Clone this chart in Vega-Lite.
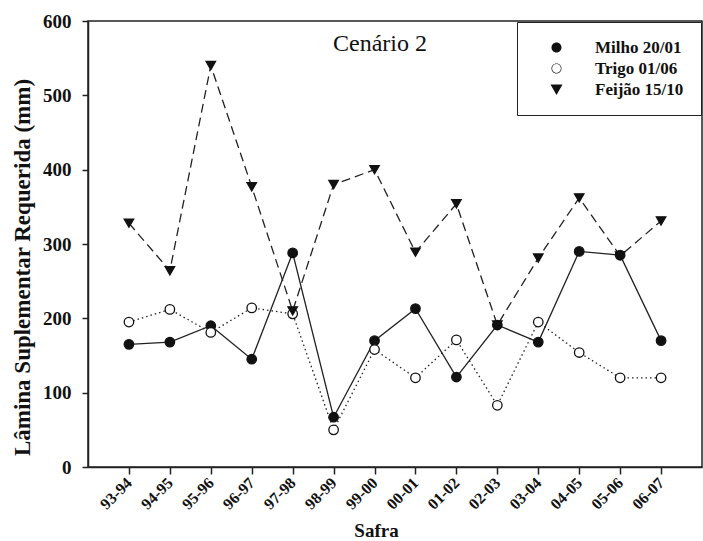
{
  "$schema": "https://vega.github.io/schema/vega-lite/v6.json",
  "width": 614,
  "height": 446,
  "autosize": {"type": "none"},
  "padding": {"left": 88, "top": 21, "right": 1, "bottom": 74},
  "background": "white",
  "title": {
    "text": "Cenário 2",
    "orient": "top",
    "anchor": "start",
    "frame": "group",
    "dx": 245,
    "dy": 32,
    "offset": -31,
    "baseline": "alphabetic",
    "font": "Liberation Serif, Times New Roman, DejaVu Serif, serif",
    "fontSize": 24,
    "fontWeight": "normal",
    "color": "#111"
  },
  "config": {
    "view": {"stroke": "#222", "strokeWidth": 1.5},
    "axis": {
      "labelFont": "Liberation Serif, Times New Roman, DejaVu Serif, serif",
      "labelFontWeight": "bold",
      "labelColor": "#111",
      "titleFont": "Liberation Serif, Times New Roman, DejaVu Serif, serif",
      "titleFontWeight": "bold",
      "titleColor": "#111",
      "domainColor": "#222",
      "domainWidth": 1.5,
      "tickColor": "#222",
      "tickWidth": 1.5,
      "grid": false
    },
    "legend": {
      "labelFont": "Liberation Serif, Times New Roman, DejaVu Serif, serif",
      "labelFontWeight": "bold",
      "labelFontSize": 17,
      "labelColor": "#111"
    }
  },
  "data": {
    "values": [
      {"safra": "93-94", "serie": "Milho 20/01", "valor": 165},
      {"safra": "94-95", "serie": "Milho 20/01", "valor": 168},
      {"safra": "95-96", "serie": "Milho 20/01", "valor": 190},
      {"safra": "96-97", "serie": "Milho 20/01", "valor": 145},
      {"safra": "97-98", "serie": "Milho 20/01", "valor": 288},
      {"safra": "98-99", "serie": "Milho 20/01", "valor": 67},
      {"safra": "99-00", "serie": "Milho 20/01", "valor": 170},
      {"safra": "00-01", "serie": "Milho 20/01", "valor": 213},
      {"safra": "01-02", "serie": "Milho 20/01", "valor": 121},
      {"safra": "02-03", "serie": "Milho 20/01", "valor": 191},
      {"safra": "03-04", "serie": "Milho 20/01", "valor": 168},
      {"safra": "04-05", "serie": "Milho 20/01", "valor": 290},
      {"safra": "05-06", "serie": "Milho 20/01", "valor": 285},
      {"safra": "06-07", "serie": "Milho 20/01", "valor": 170},
      {"safra": "93-94", "serie": "Trigo 01/06", "valor": 195},
      {"safra": "94-95", "serie": "Trigo 01/06", "valor": 212},
      {"safra": "95-96", "serie": "Trigo 01/06", "valor": 181},
      {"safra": "96-97", "serie": "Trigo 01/06", "valor": 214},
      {"safra": "97-98", "serie": "Trigo 01/06", "valor": 206},
      {"safra": "98-99", "serie": "Trigo 01/06", "valor": 50},
      {"safra": "99-00", "serie": "Trigo 01/06", "valor": 158},
      {"safra": "00-01", "serie": "Trigo 01/06", "valor": 120},
      {"safra": "01-02", "serie": "Trigo 01/06", "valor": 171},
      {"safra": "02-03", "serie": "Trigo 01/06", "valor": 83},
      {"safra": "03-04", "serie": "Trigo 01/06", "valor": 195},
      {"safra": "04-05", "serie": "Trigo 01/06", "valor": 154},
      {"safra": "05-06", "serie": "Trigo 01/06", "valor": 120},
      {"safra": "06-07", "serie": "Trigo 01/06", "valor": 120},
      {"safra": "93-94", "serie": "Feijão 15/10", "valor": 328},
      {"safra": "94-95", "serie": "Feijão 15/10", "valor": 264},
      {"safra": "95-96", "serie": "Feijão 15/10", "valor": 540},
      {"safra": "96-97", "serie": "Feijão 15/10", "valor": 377},
      {"safra": "97-98", "serie": "Feijão 15/10", "valor": 210},
      {"safra": "98-99", "serie": "Feijão 15/10", "valor": 380},
      {"safra": "99-00", "serie": "Feijão 15/10", "valor": 400},
      {"safra": "00-01", "serie": "Feijão 15/10", "valor": 289},
      {"safra": "01-02", "serie": "Feijão 15/10", "valor": 354},
      {"safra": "02-03", "serie": "Feijão 15/10", "valor": 191},
      {"safra": "03-04", "serie": "Feijão 15/10", "valor": 281},
      {"safra": "04-05", "serie": "Feijão 15/10", "valor": 362},
      {"safra": "05-06", "serie": "Feijão 15/10", "valor": 284},
      {"safra": "06-07", "serie": "Feijão 15/10", "valor": 331}
    ]
  },
  "encoding": {
    "x": {
      "field": "safra",
      "type": "ordinal",
      "sort": null,
      "scale": {"type": "point", "padding": 1},
      "axis": {
        "title": "Safra",
        "titleFontSize": 19,
        "titleX": 288,
        "titleY": 54,
        "titleBaseline": "top",
        "labelFontSize": 16,
        "labelAngle": -45,
        "labelAlign": "right",
        "labelBaseline": "middle",
        "labelPadding": 6,
        "tickSize": 7
      }
    },
    "y": {
      "field": "valor",
      "type": "quantitative",
      "scale": {"domain": [0, 600], "nice": false},
      "axis": {
        "title": "Lâmina Suplementar Requerida (mm)",
        "titleFontSize": 23,
        "titleX": -66,
        "titleY": 246,
        "titleBaseline": "middle",
        "titleAlign": "center",
        "values": [0, 100, 200, 300, 400, 500, 600],
        "labelFontSize": 19,
        "labelPadding": 11,
        "tickSize": 6
      }
    }
  },
  "layer": [
    {
      "transform": [{"filter": "datum.serie === 'Milho 20/01'"}],
      "mark": {"type": "line", "stroke": "#222", "strokeWidth": 1.3},
      "encoding": {}
    },
    {
      "transform": [{"filter": "datum.serie === 'Trigo 01/06'"}],
      "mark": {"type": "line", "stroke": "#222", "strokeWidth": 1.3, "strokeDash": [1.5, 3]},
      "encoding": {}
    },
    {
      "transform": [{"filter": "datum.serie === 'Feijão 15/10'"}],
      "mark": {"type": "line", "stroke": "#222", "strokeWidth": 1.3, "strokeDash": [9, 5]},
      "encoding": {}
    },
    {
      "transform": [{"filter": "datum.serie === 'Milho 20/01'"}],
      "mark": {"type": "point", "shape": "circle", "filled": true, "fill": "#111", "stroke": "#111", "strokeWidth": 1.3, "opacity": 1, "size": 90},
      "encoding": {}
    },
    {
      "transform": [{"filter": "datum.serie === 'Trigo 01/06'"}],
      "mark": {"type": "point", "shape": "circle", "filled": true, "fill": "white", "stroke": "#111", "strokeWidth": 1.3, "opacity": 1, "size": 90},
      "encoding": {}
    },
    {
      "transform": [{"filter": "datum.serie === 'Feijão 15/10'"}],
      "mark": {"type": "point", "shape": "triangle-down", "filled": true, "fill": "#111", "stroke": "#111", "strokeWidth": 1.3, "opacity": 1, "size": 90},
      "encoding": {}
    },
    {
      "mark": {"type": "point", "filled": true, "color": "#111", "stroke": "#111", "strokeWidth": 1.3, "opacity": 0, "size": 10},
      "encoding": {
        "shape": {
          "field": "serie",
          "type": "nominal",
          "scale": {
            "domain": ["Milho 20/01", "Trigo 01/06", "Feijão 15/10"],
            "range": [
              "M-4.8,0L-1,0M1,0L4.8,0M-1,0A1,1 0 1,1 1,0A1,1 0 1,1 -1,0Z",
              "M-4.8,0L-4.55,0M-4.1,0L-3.85,0M-3.4,0L-3.15,0M-2.7,0L-2.45,0M-2,0L-1.75,0M1.75,0L2,0M2.45,0L2.7,0M3.15,0L3.4,0M3.85,0L4.1,0M4.55,0L4.8,0M-1,0A1,1 0 1,1 1,0A1,1 0 1,1 -1,0ZM-0.88,0A0.88,0.88 0 1,0 0.88,0A0.88,0.88 0 1,0 -0.88,0Z",
              "M-4.8,0L-2.5,0M2.5,0L4.8,0M-1.2,-1L1.2,-1L0,1.1Z"
            ]
          },
          "legend": {
            "title": null,
            "orient": "none",
            "legendX": 429,
            "legendY": 1,
            "padding": 17,
            "strokeColor": "#222",
            "fillColor": "white",
            "symbolSize": 100,
            "symbolOffset": 14,
            "symbolFillColor": "#111",
            "symbolStrokeColor": "#111",
            "symbolStrokeWidth": 1.3,
            "symbolOpacity": 1,
            "labelOffset": 30,
            "labelFont": "Liberation Serif, Times New Roman, DejaVu Serif, serif",
            "labelFontWeight": "bold",
            "labelFontSize": 17,
            "labelColor": "#111",
            "rowPadding": 3
          }
        }
      }
    }
  ]
}
